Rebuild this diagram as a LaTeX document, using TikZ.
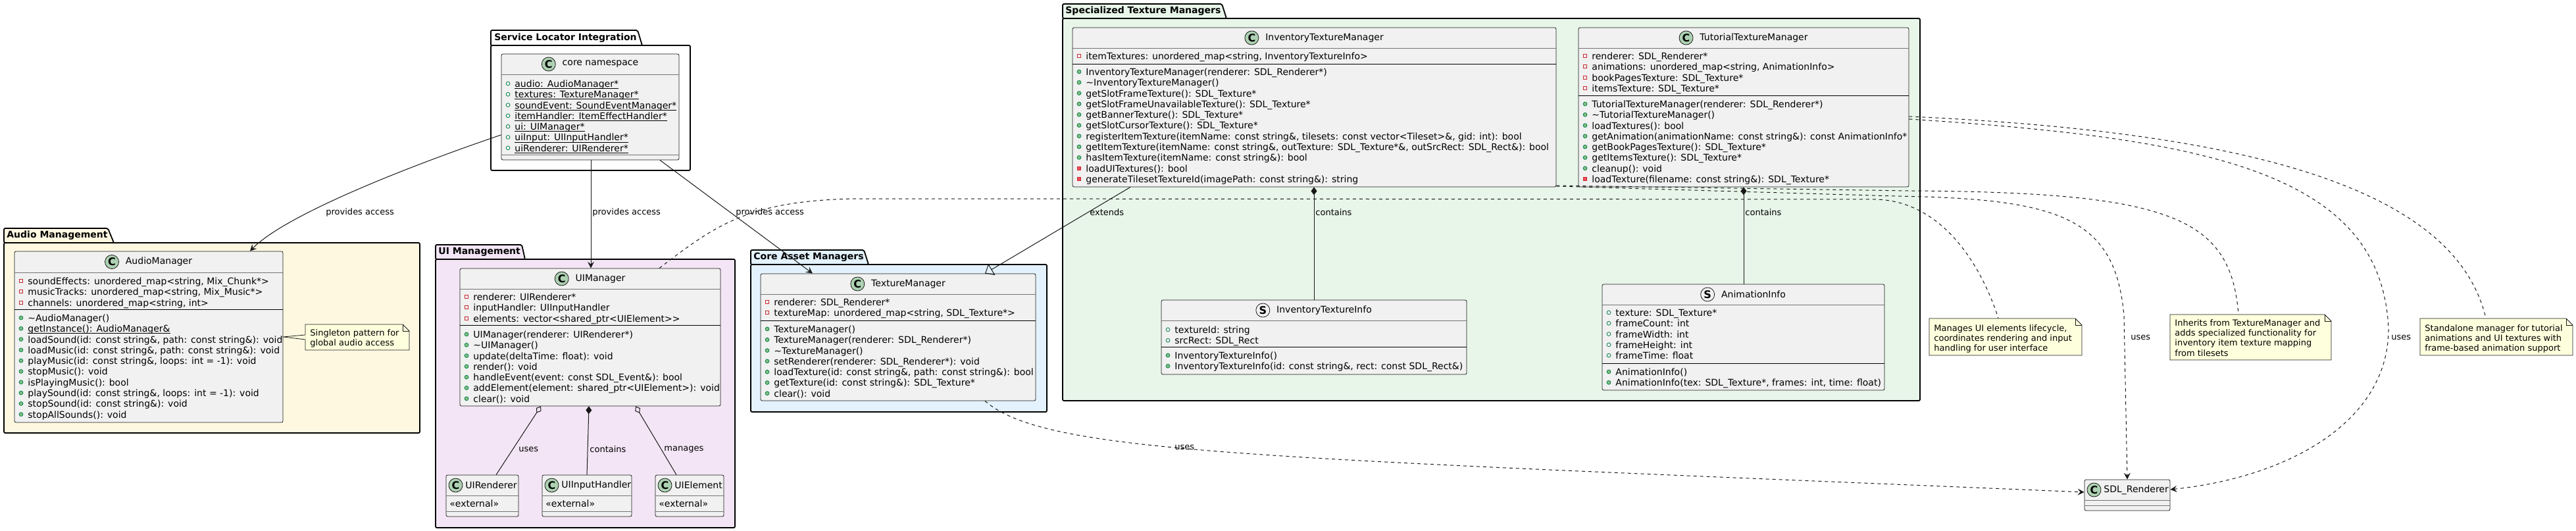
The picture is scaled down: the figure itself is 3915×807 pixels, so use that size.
\documentclass[tikz,border=0pt]{standalone}
\usepackage{fontspec}
\setmainfont{DejaVu Sans}
\usetikzlibrary{arrows.meta,fit}

\definecolor{clsfill}{HTML}{F1F1F1}
\definecolor{clsline}{HTML}{181818}
\definecolor{spotC}{HTML}{ADD1B2}
\definecolor{privred}{HTML}{C82930}
\definecolor{privfill}{HTML}{F24D5C}
\definecolor{pubgreen}{HTML}{038048}
\definecolor{pubfill}{HTML}{84BE84}
\definecolor{notefill}{HTML}{FEFFDD}
\definecolor{audiobg}{HTML}{FFF8E1}
\definecolor{uibg}{HTML}{F3E5F5}
\definecolor{corebg}{HTML}{E3F2FD}
\definecolor{specbg}{HTML}{E8F5E9}

\tikzset{
  pkg/.style={draw=black,line width=0.9pt,rounded corners=1pt},
  pkgtitle/.style={anchor=west,inner sep=0pt,font=\fontsize{7}{8}\selectfont\bfseries},
  cls/.style={draw=clsline,fill=clsfill,line width=0.4pt,rounded corners=1.2pt,inner sep=0pt},
  hline/.style={draw=clsline!60,line width=0.45pt},
  sline/.style={draw=black,line width=0.5pt},
  member/.style={anchor=mid west,inner sep=0pt,font=\fontsize{7}{8}\selectfont},
  cname/.style={inner sep=0pt,font=\fontsize{7}{8}\selectfont},
  spot/.style={circle,draw=clsline,line width=0.4pt,fill=spotC,minimum size=10.5pt,inner sep=0pt,font=\fontsize{8}{8}\selectfont\bfseries},
  sspot/.style={spot,fill=clsfill},
  stereo/.style={anchor=mid west,inner sep=0pt,font=\fontsize{7}{8}\selectfont},
  notestyle/.style={draw=clsline,fill=notefill,line width=0.4pt},
  notetext/.style={anchor=mid west,inner sep=0pt,font=\fontsize{6.5}{7.5}\selectfont},
  lbl/.style={anchor=west,inner sep=0pt,font=\fontsize{6.5}{7.5}\selectfont},
  link/.style={draw=clsline,line width=0.5pt},
  dep/.style={link,dash pattern=on 2.5pt off 2.5pt},
}

% static members
\newcommand\ul[1]{\setbox0\hbox{#1}\rlap{\rule[-1.3pt]{\wd0}{0.45pt}}\box0}

% visibility icons
\newcommand\icfpriv[1]{\draw[privred,line width=0.4pt] (#1) ++(-2.6,-2.6) rectangle ++(5.2,5.2);}
\newcommand\icmpriv[1]{\draw[privred,fill=privfill,line width=0.4pt] (#1) ++(-2.6,-2.6) rectangle ++(5.2,5.2);}
\newcommand\icfpub[1]{\draw[pubgreen,line width=0.4pt] (#1) circle[radius=1.45pt];}
\newcommand\icmpub[1]{\draw[pubgreen,fill=pubfill,line width=0.4pt] (#1) circle[radius=1.45pt];}

\newcommand\members[4]{%
  \foreach \k/\t [count=\i from 0] in {#4}{%
    \csname ic\k\endcsname{#2+10,#3+16.3*\i}
    \node[member] (#1\i) at (#2+20,#3+16.3*\i) {\t};
  }}

\newcommand\notebox[5]{%
  \draw[notestyle] (#2,#3) -- (#4-10,#3) -- (#4,#3+10) -- (#4,#5) -- (#2,#5) -- cycle;
  \draw[notestyle,fill=none] (#4-10,#3) |- (#4,#3+10);
  \node[fit={(#2,#3) (#4,#5)},inner sep=0pt] (#1) {};}

\newcommand\notelines[4]{%
  \foreach \t [count=\i from 0] in {#4}{\node[notetext] (#1\i) at (#2,#3+15.2*\i) {\t};}}

\begin{document}
\begin{tikzpicture}[x=0.5pt,y=-0.5pt,>={Stealth[length=5pt,width=5pt,inset=2pt]}]
\useasboundingbox (0,0) rectangle (3915,807);
\fill[white] (0,0) rectangle (3915,807);

% packages
\draw[pkg] (746,69) -- (746,46) -- (969,46) -- (976,69);
\draw[pkg] (746,69) rectangle (1049,259);
\node[pkgtitle] (pSL) at (751,57.5) {Service Locator Integration};

\draw[pkg,fill=audiobg] (6,369) -- (6,347) -- (164,347) -- (173,369) -- cycle;
\draw[pkg,fill=audiobg] (6,369) rectangle (638,658);
\node[pkgtitle] (pAM) at (10,358) {Audio Management};

\draw[pkg,fill=uibg] (662,394) -- (662,372) -- (793,372) -- (798,394) -- cycle;
\draw[pkg,fill=uibg] (662,394) rectangle (1117,802);
\node[pkgtitle] (pUI) at (666,383) {UI Management};

\draw[pkg,fill=corebg] (1141,402) -- (1141,380) -- (1313,380) -- (1320,402) -- cycle;
\draw[pkg,fill=corebg] (1141,402) rectangle (1591,626);
\node[pkgtitle] (pCA) at (1145,391) {Core Asset Managers};

\draw[pkg,fill=specbg] (1615,28) -- (1615,6) -- (1857,6) -- (1864,28) -- cycle;
\draw[pkg,fill=specbg] (1615,28) rectangle (2918,609);
\node[pkgtitle] (pST) at (1619,17) {Specialized Texture Managers};

% core namespace
\node[cls,fit={(762,82) (1032,243)}] (core) {};
\draw[hline] (core.west |- 0,113) -- (core.east |- 0,113);
\draw[hline] (core.west |- 0,235) -- (core.east |- 0,235);
\node[cname] (coreN) at (912.5,97.5) {core namespace};
\node[spot] (coreS) at ([xshift=-10.25pt]coreN.west) {C};
\members{coreA}{762}{127}{
  fpub/{\ul{audio: AudioManager*}},
  fpub/{\ul{textures: TextureManager*}},
  fpub/{\ul{soundEvent: SoundEventManager*}},
  fpub/{\ul{itemHandler: ItemEffectHandler*}},
  fpub/{\ul{ui: UIManager*}},
  fpub/{\ul{uiInput: UIInputHandler*}},
  fpub/{\ul{uiRenderer: UIRenderer*}}}

% AudioManager
\node[cls,fit={(22,382) (430,642)}] (am) {};
\draw[hline] (am.west |- 0,414) -- (am.east |- 0,414);
\draw[sline] (am.west |- 0,471) -- (am.east |- 0,471);
\node[cname] (amN) at (241.5,398) {AudioManager};
\node[spot] (amS) at ([xshift=-10.25pt]amN.west) {C};
\members{amA}{22}{427}{
  fpriv/{soundEffects: unordered\_map<string, Mix\_Chunk*>},
  fpriv/{musicTracks: unordered\_map<string, Mix\_Music*>},
  fpriv/{channels: unordered\_map<string, int>}}
\members{amM}{22}{483}{
  mpub/{\textasciitilde AudioManager()},
  mpub/{\ul{getInstance(): AudioManager\&}},
  mpub/{loadSound(id: const string\&, path: const string\&): void},
  mpub/{loadMusic(id: const string\&, path: const string\&): void},
  mpub/{playMusic(id: const string\&, loops: int = -1): void},
  mpub/{stopMusic(): void},
  mpub/{isPlayingMusic(): bool},
  mpub/{playSound(id: const string\&, loops: int = -1): void},
  mpub/{stopSound(id: const string\&): void},
  mpub/{stopAllSounds(): void}}

% UIManager
\node[cls,fit={(699,408) (1095,617)}] (uim) {};
\draw[hline] (uim.west |- 0,439) -- (uim.east |- 0,439);
\draw[sline] (uim.west |- 0,495) -- (uim.east |- 0,495);
\node[cname] (uimN) at (912.5,423.5) {UIManager};
\node[spot] (uimS) at ([xshift=-10.25pt]uimN.west) {C};
\members{uimA}{699}{451}{
  fpriv/{renderer: UIRenderer*},
  fpriv/{inputHandler: UIInputHandler},
  fpriv/{elements: vector<shared\_ptr<UIElement>{}>}}
\members{uimM}{699}{508}{
  mpub/{UIManager(renderer: UIRenderer*)},
  mpub/{\textasciitilde UIManager()},
  mpub/{update(deltaTime: float): void},
  mpub/{render(): void},
  mpub/{handleEvent(event: const SDL\_Event\&): bool},
  mpub/{addElement(element: shared\_ptr<UIElement>): void},
  mpub/{clear(): void}}

% external UI classes
\node[cls,fit={(678,722) (788,785)}] (uir) {};
\draw[hline] (uir.west |- 0,753) -- (uir.east |- 0,753);
\draw[hline] (uir.west |- 0,777) -- (uir.east |- 0,777);
\node[spot] (uirS) at (692.5,737.5) {C};
\node[cname,anchor=west] (uirN) at (707,737.5) {UIRenderer};
\node[stereo] (uirT) at (683,765) {«external»};

\node[cls,fit={(824,722) (960,785)}] (uih) {};
\draw[hline] (uih.west |- 0,753) -- (uih.east |- 0,753);
\draw[hline] (uih.west |- 0,777) -- (uih.east |- 0,777);
\node[spot] (uihS) at (838.5,737.5) {C};
\node[cname,anchor=west] (uihN) at (853,737.5) {UIInputHandler};
\node[stereo] (uihT) at (829,765) {«external»};

\node[cls,fit={(996,722) (1100,785)}] (uie) {};
\draw[hline] (uie.west |- 0,753) -- (uie.east |- 0,753);
\draw[hline] (uie.west |- 0,777) -- (uie.east |- 0,777);
\node[spot] (uieS) at (1010.5,737.5) {C};
\node[cname,anchor=west] (uieN) at (1025,737.5) {UIElement};
\node[stereo] (uieT) at (1001,765) {«external»};

% TextureManager
\node[cls,fit={(1156,416) (1574,609)}] (tm) {};
\draw[hline] (tm.west |- 0,447) -- (tm.east |- 0,447);
\draw[sline] (tm.west |- 0,488) -- (tm.east |- 0,488);
\node[cname] (tmN) at (1380.5,431.5) {TextureManager};
\node[spot] (tmS) at ([xshift=-10.25pt]tmN.west) {C};
\members{tmA}{1156}{459}{
  fpriv/{renderer: SDL\_Renderer*},
  fpriv/{textureMap: unordered\_map<string, SDL\_Texture*>}}
\members{tmM}{1156}{500}{
  mpub/{TextureManager()},
  mpub/{TextureManager(renderer: SDL\_Renderer*)},
  mpub/{\textasciitilde TextureManager()},
  mpub/{setRenderer(renderer: SDL\_Renderer*): void},
  mpub/{loadTexture(id: const string\&, path: const string\&): bool},
  mpub/{getTexture(id: const string\&): SDL\_Texture*},
  mpub/{clear(): void}}

% InventoryTextureManager
\node[cls,fit={(1630,42) (2365,284)}] (itm) {};
\draw[hline] (itm.west |- 0,73) -- (itm.east |- 0,73);
\draw[sline] (itm.west |- 0,98) -- (itm.east |- 0,98);
\node[cname] (itmN) at (2013,57.5) {InventoryTextureManager};
\node[spot] (itmS) at ([xshift=-10.25pt]itmN.west) {C};
\members{itmA}{1630}{85}{
  fpriv/{itemTextures: unordered\_map<string, InventoryTextureInfo>}}
\members{itmM}{1630}{109}{
  mpub/{InventoryTextureManager(renderer: SDL\_Renderer*)},
  mpub/{\textasciitilde InventoryTextureManager()},
  mpub/{getSlotFrameTexture(): SDL\_Texture*},
  mpub/{getSlotFrameUnavailableTexture(): SDL\_Texture*},
  mpub/{getBannerTexture(): SDL\_Texture*},
  mpub/{getSlotCursorTexture(): SDL\_Texture*},
  mpub/{registerItemTexture(itemName: const string\&, tilesets: const vector<Tileset>\&, gid: int): bool},
  mpub/{getItemTexture(itemName: const string\&, outTexture: SDL\_Texture*\&, outSrcRect: SDL\_Rect\&): bool},
  mpub/{hasItemTexture(itemName: const string\&): bool},
  mpriv/{loadUITextures(): bool},
  mpriv/{generateTilesetTextureId(imagePath: const string\&): string}}

% TutorialTextureManager
\node[cls,fit={(2399,42) (2901,284)}] (ttm) {};
\draw[hline] (ttm.west |- 0,73) -- (ttm.east |- 0,73);
\draw[sline] (ttm.west |- 0,146) -- (ttm.east |- 0,146);
\node[cname] (ttmN) at (2665.5,57.5) {TutorialTextureManager};
\node[spot] (ttmS) at ([xshift=-10.25pt]ttmN.west) {C};
\members{ttmA}{2399}{85}{
  fpriv/{renderer: SDL\_Renderer*},
  fpriv/{animations: unordered\_map<string, AnimationInfo>},
  fpriv/{bookPagesTexture: SDL\_Texture*},
  fpriv/{itemsTexture: SDL\_Texture*}}
\members{ttmM}{2399}{158}{
  mpub/{TutorialTextureManager(renderer: SDL\_Renderer*)},
  mpub/{\textasciitilde TutorialTextureManager()},
  mpub/{loadTextures(): bool},
  mpub/{getAnimation(animationName: const string\&): const AnimationInfo*},
  mpub/{getBookPagesTexture(): SDL\_Texture*},
  mpub/{getItemsTexture(): SDL\_Texture*},
  mpub/{cleanup(): void},
  mpriv/{loadTexture(filename: const string\&): SDL\_Texture*}}

% InventoryTextureInfo
\node[cls,fit={(1765,456) (2229,569)}] (iti) {};
\draw[hline] (iti.west |- 0,487) -- (iti.east |- 0,487);
\draw[sline] (iti.west |- 0,528) -- (iti.east |- 0,528);
\node[cname] (itiN) at (2012.5,471.5) {InventoryTextureInfo};
\node[sspot] (itiS) at ([xshift=-10.25pt]itiN.west) {S};
\members{itiA}{1765}{501}{
  fpub/{textureId: string},
  fpub/{srcRect: SDL\_Rect}}
\members{itiM}{1765}{540}{
  mpub/{InventoryTextureInfo()},
  mpub/{InventoryTextureInfo(id: const string\&, rect: const SDL\_Rect\&)}}

% AnimationInfo
\node[cls,fit={(2435,432) (2864,593)}] (ani) {};
\draw[hline] (ani.west |- 0,463) -- (ani.east |- 0,463);
\draw[sline] (ani.west |- 0,552) -- (ani.east |- 0,552);
\node[cname] (aniN) at (2665,447.5) {AnimationInfo};
\node[sspot] (aniS) at ([xshift=-10.25pt]aniN.west) {S};
\members{aniA}{2435}{475}{
  fpub/{texture: SDL\_Texture*},
  fpub/{frameCount: int},
  fpub/{frameWidth: int},
  fpub/{frameHeight: int},
  fpub/{frameTime: float}}
\members{aniM}{2435}{565}{
  mpub/{AnimationInfo()},
  mpub/{AnimationInfo(tex: SDL\_Texture*, frames: int, time: float)}}

% SDL_Renderer
\node[cls,fit={(3168,729) (3298,776)}] (sdl) {};
\draw[hline] (sdl.west |- 0,760) -- (sdl.east |- 0,760);
\draw[hline] (sdl.west |- 0,768) -- (sdl.east |- 0,768);
\node[spot] (sdlS) at (3182.5,744.5) {C};
\node[cname,anchor=west] (sdlN) at (3197,744.5) {SDL\_Renderer};

% notes
\notebox{n0}{464}{493}{622}{532}
\notelines{n0t}{471}{505}{{Singleton pattern for},{global audio access}}
\fill[notefill] (am.east |- 0,512) -- (464.5,508.5) -- (464.5,516.5) -- cycle;
\draw[notestyle] (464,509) -- (am.east |- 0,512) -- (464,516);

\notebox{n1}{2932}{484}{3164}{540}
\notelines{n1t}{2939}{498}{{Manages UI elements lifecycle,},{coordinates rendering and input},{handling for user interface}}
\notebox{n2}{3298}{478}{3543}{547}
\notelines{n2t}{3305}{490}{{Inherits from TextureManager and},{adds specialized functionality for},{inventory item texture mapping},{from tilesets}}
\notebox{n3}{3678}{484}{3910}{540}
\notelines{n3t}{3685}{498}{{Standalone manager for tutorial},{animations and UI textures with},{frame-based animation support}}

% service locator access
\draw[link,->] (core.west |- 0,205) .. controls (600,260) and (430,330) .. (am.north -| 380,0);
\node[lbl] (lA) at (495,323) {provides access};
\draw[link,->] (core.south -| 898,0) -- (uim.north -| 898,0);
\node[lbl] (lB) at (900,323) {provides access};
\draw[link,->] (core.south -| 1003,0) -- (tm.north -| 1235,0);
\node[lbl] (lC) at (1118,323) {provides access};

% inheritance and composition
\draw[link,-{Triangle[open,length=6pt,width=10pt]}] (itm.south -| 1718,0) -- (tm.north -| 1497,0);
\node[lbl] (lD) at (1656,323) {extends};
\draw[link,{Diamond[length=6pt,width=4.5pt]}-] (itm.south -| 1997,0) -- (iti.north -| 1997,0);
\node[lbl] (lE) at (1999,323) {contains};
\draw[link,{Diamond[length=6pt,width=4.5pt]}-] (ttm.south -| 2650,0) -- (ani.north -| 2650,0);
\node[lbl] (lF) at (2652,323) {contains};

\draw[link,{Diamond[open,length=6pt,width=4.5pt]}-] (uim.south -| 822,0) -- (uir.north -| 754,0);
\node[lbl] (lG) at (788,683) {uses};
\draw[link,{Diamond[length=6pt,width=4.5pt]}-] (uim.south -| 895,0) -- (uih.north -| 892,0);
\node[lbl] (lH) at (896,683) {contains};
\draw[link,{Diamond[open,length=6pt,width=4.5pt]}-] (uim.south -| 966,0) -- (uie.north -| 1028,0);
\node[lbl] (lI) at (1009,683) {manages};

% dependencies on SDL_Renderer
\draw[dep,->] (tm.south -| 1497,0) .. controls (1590,690) and (1900,695) .. (sdl.west |- 0,748);
\node[lbl] (lJ) at (1785,680) {uses};
\draw[dep,->] (itm.east |- 0,283) -- (2880,298) .. controls (3130,302) and (3215,330) .. (3228,480) -- (sdl.north -| 3233,0);
\node[lbl] (lK) at (3238,513) {uses};
\draw[dep,->] (ttm.east |- 0,181) .. controls (3350,210) and (3620,260) .. (3630,500) .. controls (3630,640) and (3480,725) .. (sdl.east |- 0,744);
\node[lbl] (lL) at (3634,513) {uses};

% note links
\draw[dep] (uim.north -| 1002,0) .. controls (1090,340) and (1140,305) .. (1300,302) -- (2850,303) .. controls (2950,305) and (3010,400) .. (n1.north -| 3037,0);
\draw[dep] (itm.east |- 0,282) -- (2900,290) .. controls (3300,292) and (3390,330) .. (n2.north -| 3402,0);
\draw[dep] (ttm.east |- 0,177) .. controls (3400,200) and (3730,280) .. (n3.north -| 3778,0);
\end{tikzpicture}
\end{document}
